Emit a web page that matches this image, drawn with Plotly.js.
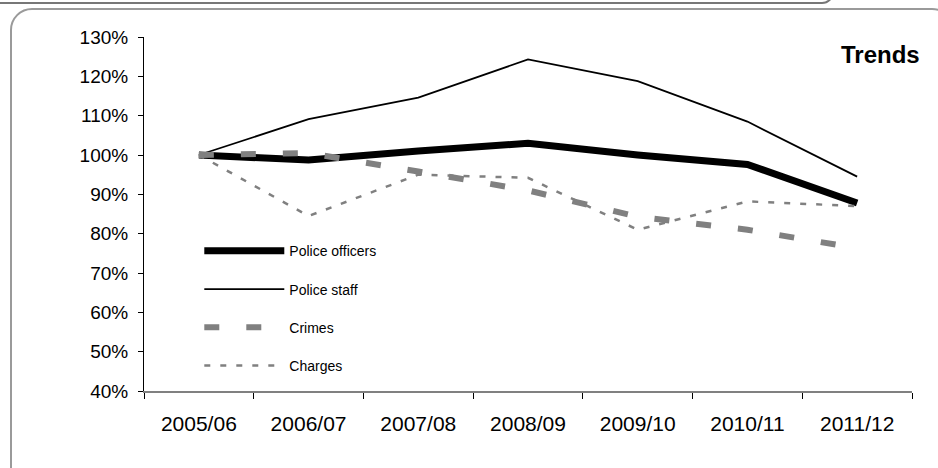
<!DOCTYPE html>
<html>
<head>
<meta charset="utf-8">
<script src="https://cdn.plot.ly/plotly-3.0.1.min.js"></script>
<style>
  html, body { margin: 0; padding: 0; background: #fff; overflow: hidden; }
  #wrap { position: relative; width: 938px; height: 468px; overflow: hidden; }
  #topbar { position: absolute; left: -20px; top: -30px; width: 850px; height: 30px;
            border: 2px solid #777; border-bottom-right-radius: 12px; }
  #frame { position: absolute; left: 10px; top: 8px; width: 940px; height: 480px;
           border: 2px solid #9a9a9a; border-radius: 22px; }
  #chart { position: absolute; left: 0; top: 0; width: 938px; height: 468px; }
</style>
</head>
<body>
<div id="wrap">
  <div id="topbar"></div>
  <div id="frame"></div>
  <div id="chart"></div>
</div>
<script>
const years = ["2005/06", "2006/07", "2007/08", "2008/09", "2009/10", "2010/11", "2011/12"];
const policeOfficers = [100, 98.7, 101, 103, 100, 97.6, 87.8];
const policeStaff = [100, 109.1, 114.6, 124.3, 118.8, 108.5, 94.5];
const crimes = [100, 100.5, 95.8, 91, 84.3, 81, 76.3];
const charges = [100, 84.5, 95, 94.2, 81, 88.2, 87];
const yTicks = [40, 50, 60, 70, 80, 90, 100, 110, 120, 130];

const font = "Arial, 'Liberation Sans', sans-serif";

const traces = [
  { name: "Police officers", x: years, y: policeOfficers, type: "scatter", mode: "lines",
    line: { color: "#000000", width: 7 }, legendgroup: "a" },
  { name: "Police staff", x: years, y: policeStaff, type: "scatter", mode: "lines",
    line: { color: "#000000", width: 1.8 }, legendgroup: "b" },
  { name: "Crimes", x: years, y: crimes, type: "scatter", mode: "lines",
    line: { color: "#808080", width: 6, dash: "15px,27px" }, legendgroup: "c" },
  { name: "Charges", x: years, y: charges, type: "scatter", mode: "lines",
    line: { color: "#808080", width: 2.5, dash: "6px,10px" }, legendgroup: "d" }
];

const layout = {
  width: 938, height: 468,
  margin: { l: 144, r: 26, t: 37, b: 77 },
  paper_bgcolor: "rgba(0,0,0,0)",
  plot_bgcolor: "rgba(0,0,0,0)",
  font: { family: font, size: 16, color: "#000" },
  showlegend: true,
  legend: {
    x: 0.072, y: 0.44, xanchor: "left", yanchor: "top",
    bgcolor: "rgba(0,0,0,0)",
    font: { family: font, size: 14, color: "#000" },
    itemwidth: 80,
    traceorder: "grouped",
    tracegroupgap: 17
  },
  xaxis: {
    type: "category",
    range: [-0.5, 6.5],
    showgrid: false, zeroline: false,
    showline: true, linecolor: "#808080", linewidth: 2,
    ticks: "outside", tickson: "boundaries", ticklen: 6, tickcolor: "#000", tickwidth: 1,
    ticklabelstandoff: 13,
    tickfont: { family: font, size: 21, color: "#000" },
    fixedrange: true
  },
  yaxis: {
    range: [40, 130],
    tickvals: yTicks,
    ticktext: yTicks.map(v => v + "%"),
    showgrid: false, zeroline: false,
    showline: true, linecolor: "#000", linewidth: 1,
    ticks: "outside", ticklen: 5, tickcolor: "#000", tickwidth: 1,
    ticklabelstandoff: 6,
    tickfont: { family: font, size: 19, color: "#000" },
    fixedrange: true
  },
  annotations: [
    { text: "<b>Trends</b>", xref: "paper", yref: "paper", x: 1.013, y: 0.95,
      xanchor: "right", yanchor: "middle", showarrow: false,
      font: { family: font, size: 24, color: "#000" } }
  ]
};

Plotly.newPlot("chart", traces, layout, { displayModeBar: false, staticPlot: true });
</script>
</body>
</html>
